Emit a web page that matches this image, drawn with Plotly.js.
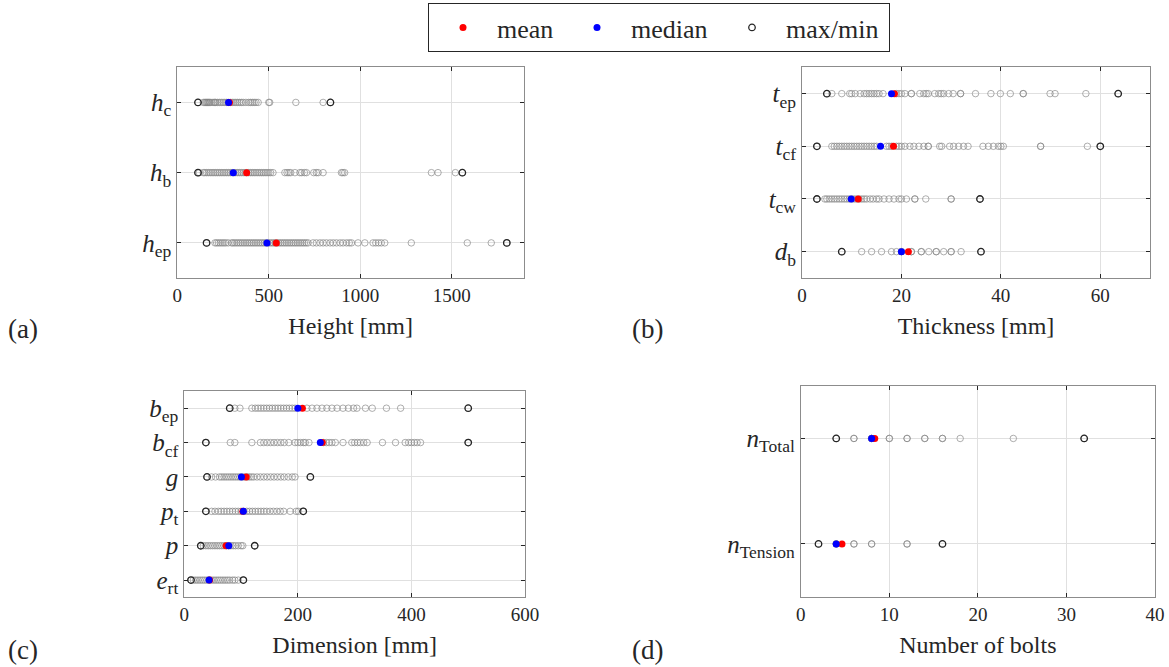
<!DOCTYPE html>
<html>
<head>
<meta charset="utf-8">
<script src="https://cdn.plot.ly/plotly-3.0.1.min.js"></script>
<style>html,body{margin:0;padding:0;background:#fff;}#chart{width:1169px;height:667px;}</style>
</head>
<body>
<div id="chart"></div>
<script>
// ---------- Panel (a): heights [mm] ----------
const rowsA = ['<i>h</i><sub>ep</sub>', '<i>h</i><sub>b</sub>', '<i>h</i><sub>c</sub>'];
const hEp = [160,206,215,225,235,245,255,265,278,297,305,315,325,335,345,355,365,375,385,395,405,415,425,435,445,455,465,475,485,495,505,515,525,535,545,555,565,575,585,595,605,615,625,635,645,655,665,675,685,695,705,715,742,760,780,797,815,835,852,870,890,906,925,940,952,988,1025,1070,1085,1100,1115,1134,1279,1585,1716,1801];
const hB = [113,120,142,150,160,170,180,190,200,210,220,230,240,250,260,270,280,290,300,310,320,330,340,350,360,370,380,390,400,410,420,430,440,450,460,470,480,490,500,510,523,588,600,610,620,643,670,680,695,706,746,760,770,797,897,905,915,1389,1425,1520,1558];
const hC = [113,142,150,155,160,165,170,175,180,190,200,205,210,220,230,240,250,260,270,280,290,300,310,320,330,340,350,360,375,390,400,410,420,430,442,500,505,648,797,837];
const meanA = [541, 379, 285];
const medianA = [490, 306, 280];
const minA = [160, 113, 113];
const maxA = [1801, 1558, 837];
const xTicksA = [0, 500, 1000, 1500];

// ---------- Panel (b): thicknesses [mm] ----------
const rowsB = ['<i>d</i><sub>b</sub>', '<i>t</i><sub>cw</sub>', '<i>t</i><sub>cf</sub>', '<i>t</i><sub>ep</sub>'];
const dB = [8,12,14,16,18,19,20,20,22,22,24,24,25.5,27,27,28.5,30,30,32,36];
const tCw = [3,4.6,5,5.5,6,6.5,7,7.5,8,8.5,9,9.5,10,10.5,11,11.5,12,12.5,13,13.7,14.3,15,15.5,16.5,17.5,18.5,19.5,20,21,22.7,22.7,24.9,30,30,35.8];
const tCf = [3,6,6.5,7,7.5,8,8.5,9,9.5,10,10.5,11,11.5,12,12.5,13,13.5,14,14.5,15,17,17.5,18,19,19.5,20,20.7,21.7,22.5,23.5,24.5,25.4,25.4,27.7,28.1,29.7,30.5,31.5,32.5,33.4,36.4,37.5,38.5,39.5,40,40.5,48,48,57.4,60];
const tEp = [5,6,8,9.6,10,10.7,11.7,12.5,13,13.5,14,14.5,15,15.5,16.3,19,19.5,20,20.7,22,22,23.7,24.5,25,25.4,26.7,27.5,28,28.5,29.5,30.4,31.9,31.9,34.9,38,39.9,41.9,44.5,44.5,49.9,50.9,57.1,63.6];
const meanB = [21.4, 11.3, 18.4, 18.6];
const medianB = [20.0, 9.9, 15.8, 18.0];
const minB = [8, 3, 3, 5];
const maxB = [36, 35.8, 60, 63.6];
const xTicksB = [0, 20, 40, 60];

// ---------- Panel (c): dimensions [mm] ----------
const rowsC = ['<i>e</i><sub>rt</sub>', '<i>p</i>', '<i>p</i><sub>t</sub>', '<i>g</i>', '<i>b</i><sub>cf</sub>', '<i>b</i><sub>ep</sub>'];
const eRt = [11.8,16,20,24,28,32,36,40,44,48,52,56,60,64,68,72,76,80,85,89,95,104];
const pP = [29,33.5,38,42,46,50,54,58,62,66,70,74,78,82,86,90,95,100,103,124];
const pT = [38,48,54,60,65,70,75,80,85,90,95,100,105,110,115,120,125,130,135,140,145,151,157,163,169,175,186.5,197,201,209.5];
const gG = [40,48,55,62,66,70,74,78,82,86,90,94,98,102,106,110,114,118,122,128,134,140,146,152,158,164,170,176,183,190,195,222];
const bCf = [38,81,89,119,134,140,146,152,158,164,170,176,184,195,200,205,210,213,219.5,245,250,255,260,266,279.5,295,300,305,310,316,322,349,372,389,395,400,405,410,416,500];
const bEp = [80,89,98,119,125,130,135,140,145,150,155,160,165,170,175,180,185,190,195,216,225,233.6,242.5,251,260,269,279.5,289,298,304,319,331,356,381,500];
const meanC = [44.5, 73.6, 103, 109, 243, 208];
const medianC = [43.6, 78.3, 104, 100.6, 239.5, 200];
const minC = [11.8, 29, 38, 40, 38, 80];
const maxC = [104, 124, 209.5, 222, 500, 500];
const xTicksC = [0, 200, 400, 600];

// ---------- Panel (d): number of bolts ----------
const rowsD = ['<i>n</i><sub>Tension</sub>', '<i>n</i><sub>Total</sub>'];
const nTension = [2,4,4,4,6,6,8,8,12,12,16];
const nTotal = [4,6,6,8,8,8,10,10,12,12,14,14,16,16,18,24,32];
const meanD = [4.65, 8.35];
const medianD = [4, 8];
const minD = [2, 4];
const maxD = [16, 32];
const xTicksD = [0, 10, 20, 30, 40];

const FONT = 'Liberation Serif';
const INK = '#262626';
const W = 1169, H = 667;

const panels = [
  {rows: rowsA, data: [hEp, hB, hC], mean: meanA, median: medianA, min: minA, max: maxA, ax: '',
   ticks: xTicksA, range: [0, 1895], px: [177.3, 524], py: [67.3, 278], title: 'Height [mm]', letter: '(a)', lx: 6, letterY: 329},
  {rows: rowsB, data: [dB, tCw, tCf, tEp], mean: meanB, median: medianB, min: minB, max: maxB, ax: '2',
   ticks: xTicksB, range: [0, 70], px: [802, 1150], py: [67.3, 278], title: 'Thickness [mm]', letter: '(b)', lx: 630, letterY: 329},
  {rows: rowsC, data: [eRt, pP, pT, gG, bCf, bEp], mean: meanC, median: medianC, min: minC, max: maxC, ax: '3',
   ticks: xTicksC, range: [0, 600], px: [184.3, 525], py: [391, 597.3], title: 'Dimension [mm]', letter: '(c)', lx: 6, letterY: 650},
  {rows: rowsD, data: [nTension, nTotal], mean: meanD, median: medianD, min: minD, max: maxD, ax: '4',
   ticks: xTicksD, range: [0, 40], px: [800.8, 1155], py: [385.7, 596.7], title: 'Number of bolts', letter: '(d)', lx: 630, letterY: 650}
];

const traces = [];
const annotations = [];
const layout = {
  width: W, height: H, margin: {l: 0, r: 0, t: 0, b: 0},
  paper_bgcolor: '#ffffff', plot_bgcolor: '#ffffff',
  font: {family: FONT, color: INK},
  showlegend: true,
  legend: {orientation: 'h', x: 428/W, xanchor: 'left', y: 1 - 3/H, yanchor: 'top',
    bordercolor: INK, borderwidth: 1, bgcolor: '#ffffff', itemwidth: 58,
    font: {family: FONT, size: 26, color: INK}, traceorder: 'normal'},
  annotations: annotations
};

panels.forEach((p, pi) => {
  const xa = 'x' + p.ax, ya = 'y' + p.ax;
  const gx = [], gy = [];
  p.data.forEach((arr, ri) => arr.forEach(v => { gx.push(v); gy.push(p.rows[ri]); }));
  traces.push({type: 'scatter', mode: 'markers', x: gx, y: gy, xaxis: xa, yaxis: ya, showlegend: false, hoverinfo: 'x',
    marker: {symbol: 'circle-open', size: 6.5, color: 'rgba(130,130,130,0.65)', line: {width: 1}}});
  const ex = [], ey = [];
  p.rows.forEach((r, ri) => { ex.push(p.min[ri], p.max[ri]); ey.push(r, r); });
  traces.push({type: 'scatter', mode: 'markers', x: ex, y: ey, xaxis: xa, yaxis: ya, name: 'max/min', legendrank: 3,
    legendwidth: 98, showlegend: pi === 0, marker: {symbol: 'circle-open', size: 6.5, color: INK, line: {width: 1.3}}});
  traces.push({type: 'scatter', mode: 'markers', x: p.mean, y: p.rows, xaxis: xa, yaxis: ya, name: 'mean', legendrank: 1,
    legendwidth: 61, showlegend: pi === 0, marker: {symbol: 'circle', size: 7, color: '#ff0000'}});
  traces.push({type: 'scatter', mode: 'markers', x: p.median, y: p.rows, xaxis: xa, yaxis: ya, name: 'median', legendrank: 2,
    legendwidth: 82, showlegend: pi === 0, marker: {symbol: 'circle', size: 7, color: '#0000ff'}});

  layout['xaxis' + p.ax] = {domain: [p.px[0] / W, p.px[1] / W], range: p.range, tickvals: p.ticks, anchor: ya,
    showline: true, linecolor: '#8c8c8c', linewidth: 1, mirror: 'ticks', ticks: 'inside', ticklen: 4, tickcolor: INK,
    showgrid: true, gridcolor: '#e0e0e0', zeroline: false, fixedrange: true,
    tickfont: {family: FONT, size: 19, color: INK},
    title: {text: p.title, font: {family: FONT, size: 24, color: INK}, standoff: 12}};
  layout['yaxis' + p.ax] = {domain: [1 - p.py[1] / H, 1 - p.py[0] / H], type: 'category', categoryarray: p.rows,
    range: [-0.5, p.rows.length - 0.5], anchor: xa, showline: true, linecolor: '#8c8c8c', linewidth: 1, mirror: 'ticks',
    ticks: 'inside', ticklen: 4, tickcolor: INK, showgrid: true, gridcolor: '#e0e0e0', zeroline: false, fixedrange: true,
    tickfont: {family: FONT, size: 25, color: INK}};

  annotations.push({text: p.letter, x: p.lx / W, xref: 'paper', y: 1 - p.letterY / H, yref: 'paper',
    xanchor: 'left', yanchor: 'middle', showarrow: false, font: {family: FONT, size: 27, color: INK}});
});

Plotly.newPlot('chart', traces, layout, {displayModeBar: false, responsive: false});
</script>
</body>
</html>
